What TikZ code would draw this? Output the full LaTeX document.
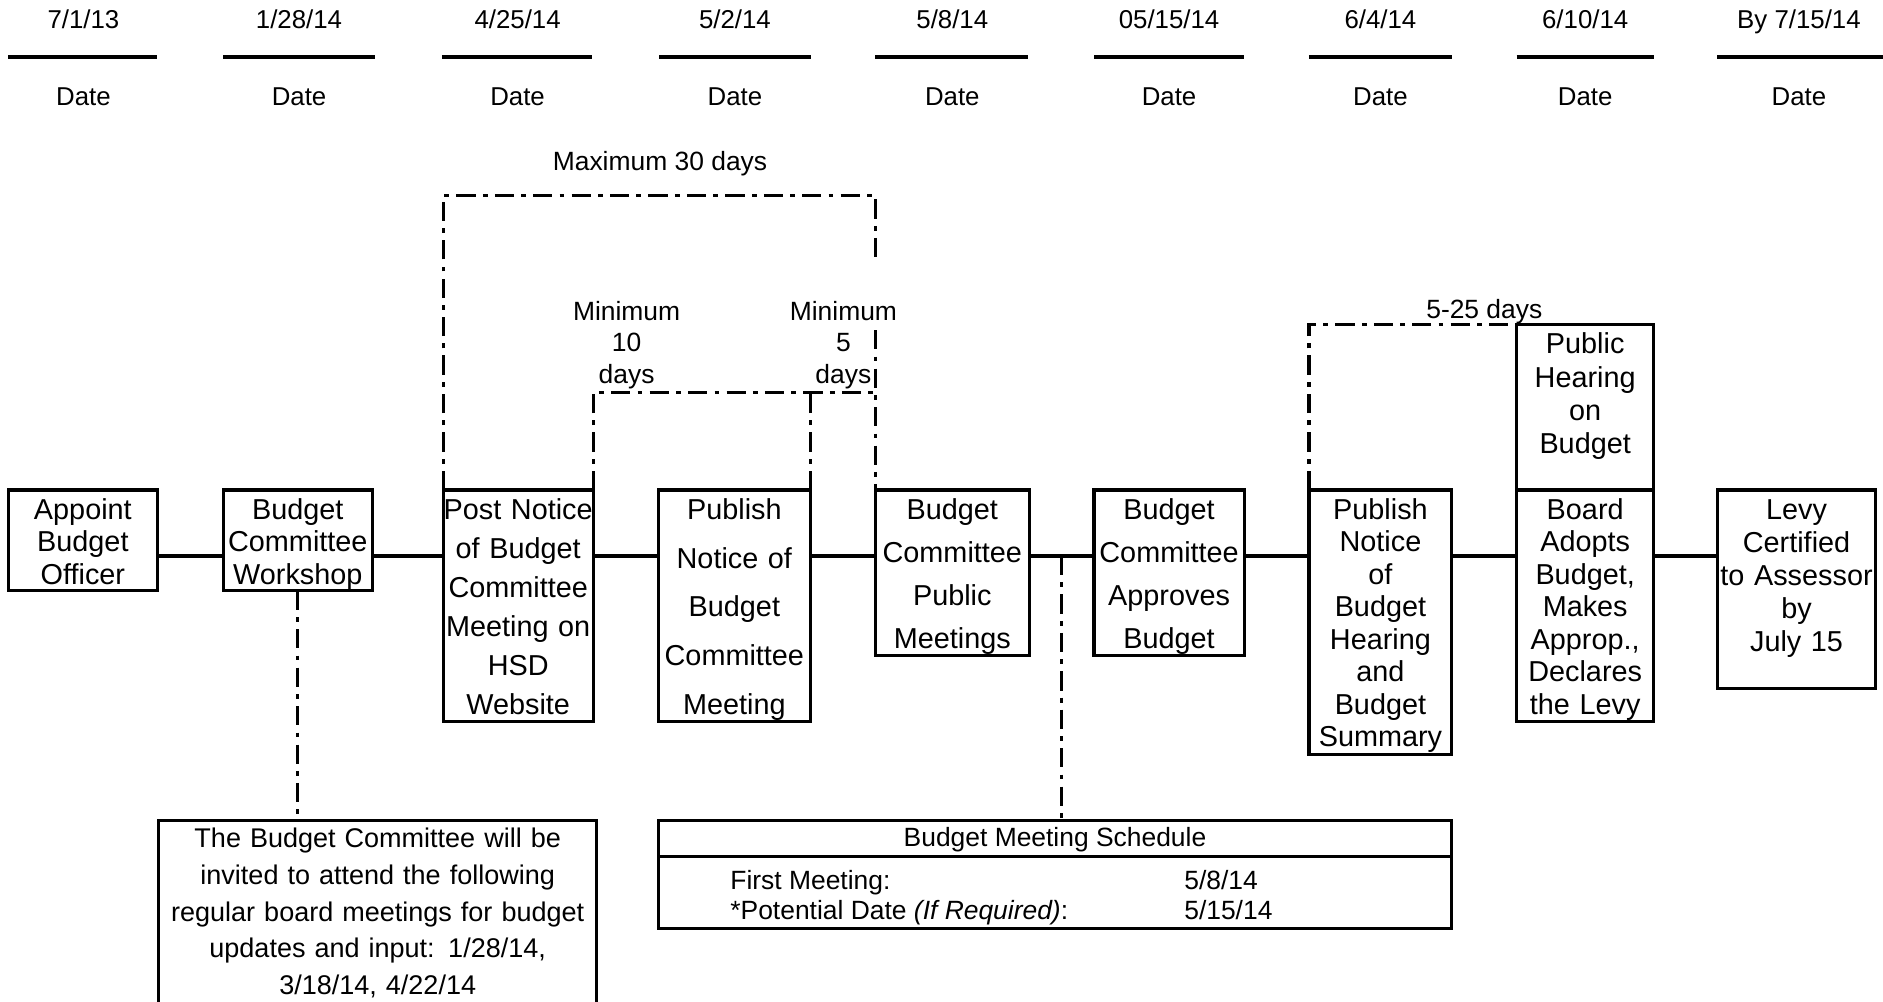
\documentclass[tikz,border=0pt]{standalone}
\usepackage{fontspec}
\setmainfont{Liberation Sans}
\usetikzlibrary{calc}
\begin{document}
\begin{tikzpicture}[x=1pt,y=-1pt,
  box/.style={draw, line width=2.6pt, inner sep=0pt, outer sep=0pt, anchor=north west},
  btext/.style={anchor=base, inner sep=0pt, align=center},
  conn/.style={line width=2.6pt},
  dd/.style={line width=2.6pt, dash pattern=on 16pt off 6pt on 4pt off 6pt},
  dline/.style={line width=3pt},
  dtext/.style={anchor=base, inner sep=0pt, font=\fontsize{21.5}{26}\selectfont},
  ann/.style={anchor=base, inner sep=0pt, align=center, font=\fontsize{22}{26.4}\selectfont},
]
\useasboundingbox[fill=white] (0,0) rectangle (1568,834);

% ---------------- date row ----------------
\node[dtext] (d1) at (69.5,24) {7/1/13};
\node[dtext] (d2) at (249,24) {1/28/14};
\node[dtext] (d3) at (431,24) {4/25/14};
\node[dtext] (d4) at (612,24) {5/2/14};
\node[dtext] (d5) at (793,24) {5/8/14};
\node[dtext] (d6) at (973.5,24) {05/15/14};
\node[dtext] (d7) at (1149.5,24) {6/4/14};
\node[dtext] (d8) at (1320,24) {6/10/14};
\node[dtext] (d9) at (1498,24) {By 7/15/14};
\draw[dline] (7,47.5) -- (131,47.5);
\draw[dline] (186,47.5) -- (312,47.5);
\draw[dline] (368,47.5) -- (493,47.5);
\draw[dline] (549,47.5) -- (675,47.5);
\draw[dline] (729,47.5) -- (856,47.5);
\draw[dline] (911,47.5) -- (1036,47.5);
\draw[dline] (1090,47.5) -- (1209,47.5);
\draw[dline] (1263,47.5) -- (1377,47.5);
\draw[dline] (1430,47.5) -- (1568,47.5);
\node[dtext] (l1) at (69.5,87.5) {Date};
\node[dtext] (l2) at (249,87.5) {Date};
\node[dtext] (l3) at (431,87.5) {Date};
\node[dtext] (l4) at (612,87.5) {Date};
\node[dtext] (l5) at (793,87.5) {Date};
\node[dtext] (l6) at (973.5,87.5) {Date};
\node[dtext] (l7) at (1149.5,87.5) {Date};
\node[dtext] (l8) at (1320,87.5) {Date};
\node[dtext] (l9) at (1498,87.5) {Date};

% ---------------- process boxes ----------------
\node[box, minimum width=124pt, minimum height=84pt] (b1) at (7,408) {};
\node[box, minimum width=124pt, minimum height=84pt] (b2) at (186,408) {};
\node[box, minimum width=125pt, minimum height=193pt] (b3) at (369,408) {};
\node[box, minimum width=127pt, minimum height=193pt] (b4) at (548,408) {};
\node[box, minimum width=128pt, minimum height=138pt] (b5) at (729,408) {};
\node[box, minimum width=125pt, minimum height=138pt] (b6) at (911,408) {};
\node[box, minimum width=119pt, minimum height=220pt] (b7) at (1090,408) {};
\node[box, minimum width=114pt, minimum height=193pt] (b8) at (1263,408) {};
\node[box, minimum width=114pt, minimum height=138pt] (ph) at (1263,270) {};
\node[box, minimum width=132pt, minimum height=165pt] (b9) at (1430,408) {};

\node[btext, text width=140pt, font=\fontsize{24}{27}\selectfont] (t1) at ([yshift=-24.6pt]b1.north) {Appoint\\Budget\\Officer};
\node[btext, text width=140pt, font=\fontsize{24}{27}\selectfont] (t2) at ([yshift=-24.6pt]b2.north) {Budget\\Committee\\Workshop};
\node[btext, text width=140pt, font=\fontsize{24}{32.4}\selectfont] (t3) at ([yshift=-24.6pt]b3.north) {Post Notice\\of Budget\\Committee\\Meeting on\\HSD\\Website};
\node[btext, text width=140pt, font=\fontsize{24}{40.5}\selectfont] (t4) at ([yshift=-24.6pt]b4.north) {Publish\\Notice of\\Budget\\Committee\\Meeting};
\node[btext, text width=140pt, font=\fontsize{24}{35.7}\selectfont] (t5) at ([yshift=-24.6pt]b5.north) {Budget\\Committee\\Public\\Meetings};
\node[btext, text width=140pt, font=\fontsize{24}{35.7}\selectfont] (t6) at ([yshift=-24.6pt]b6.north) {Budget\\Committee\\Approves\\Budget};
\node[btext, text width=140pt, font=\fontsize{24}{27}\selectfont] (t7) at ([yshift=-24.6pt]b7.north) {Publish\\Notice\\of\\Budget\\Hearing\\and\\Budget\\Summary};
\node[btext, text width=140pt, font=\fontsize{24}{27}\selectfont] (t8) at ([yshift=-24.6pt]b8.north) {Board\\Adopts\\Budget,\\Makes\\Approp.,\\Declares\\the Levy};
\node[btext, text width=140pt, font=\fontsize{24}{27.7}\selectfont] (tph) at ([yshift=-24.6pt]ph.north) {Public\\Hearing\\on\\Budget};
\node[btext, text width=150pt, font=\fontsize{24}{27.5}\selectfont] (t9) at ([yshift=-24.6pt]b9.north) {Levy\\Certified\\to Assessor\\by\\July 15};

% ---------------- connectors ----------------
\coordinate (lvl) at (0,463);
\draw[conn] (b1.east |- lvl) -- (b2.west |- lvl);
\draw[conn] (b2.east |- lvl) -- (b3.west |- lvl);
\draw[conn] (b3.east |- lvl) -- (b4.west |- lvl);
\draw[conn] (b4.east |- lvl) -- (b5.west |- lvl);
\draw[conn] (b5.east |- lvl) -- (b6.west |- lvl);
\draw[conn] (b6.east |- lvl) -- (b7.west |- lvl);
\draw[conn] (b7.east |- lvl) -- (b8.west |- lvl);
\draw[conn] (b8.east |- lvl) -- (b9.west |- lvl);
\coordinate (c56) at ($(b5.east |- lvl)!0.5!(b6.west |- lvl)$);

% ---------------- notes ----------------
\node[inner sep=0pt, outer sep=0pt, anchor=north west, minimum width=365pt, minimum height=151pt] (note) at (132,683) {};
\draw[conn] (note.south west) -- (note.north west) -- (note.north east) -- (note.south east);
\node[btext, text width=365pt, font=\fontsize{22.5}{30.5}\selectfont] (notet) at ([yshift=-23pt]note.north) {The Budget Committee will be\\invited to attend the following\\regular board meetings for budget\\updates and input: 1/28/14,\\3/18/14, 4/22/14};

\node[box, minimum width=661pt, minimum height=90pt] (sched) at (548,683) {};
\coordinate (ysep) at (0,713);
\draw[conn] (sched.west |- ysep) -- (sched.east |- ysep);
\node[ann] (sh) at (878.5,705) {Budget Meeting Schedule};
\node[ann, anchor=base west] (r1a) at (608,741) {First Meeting:};
\node[ann, anchor=base west] (r1b) at (986,741) {5/8/14};
\node[ann, anchor=base west] (r2a) at (608,766) {*Potential Date \textit{(If Required)}:};
\node[ann, anchor=base west] (r2b) at (986,766) {5/15/14};

% ---------------- interval brackets ----------------
\coordinate (ymax) at (0,163);
\coordinate (ygap1) at (0,215);
\coordinate (ygap2) at (0,275);
\coordinate (ymin) at (0,327);
\draw[dd] (b3.north west) -- (b3.north west |- ymax) -- (b5.north west |- ymax) -- (b5.north west |- ygap1);
\draw[dd] (b5.north west |- ygap2) -- (b5.north west);
\draw[dd] (b3.north east) -- (b3.north east |- ymin) -- (b5.north west |- ymin);
\draw[dd] (b4.north east) -- (b4.north east |- ymin);
\draw[dd] (b7.north west) -- (b7.north west |- ph.north) -- (ph.north west);
\draw[dd] (b2.south) -- (b2.south |- note.north);
\draw[dd] (c56) -- (c56 |- sched.north);

\node[ann] (max) at (549.6,141.6) {Maximum 30 days};
\node[ann, text width=100pt] (min10) at (521.8,266.5) {Minimum\\10\\days};
\node[ann, text width=100pt] (min5) at (702.3,266.5) {Minimum\\5\\days};
\node[ann] (d525) at (1236,265) {5-25 days};
\end{tikzpicture}
\end{document}
